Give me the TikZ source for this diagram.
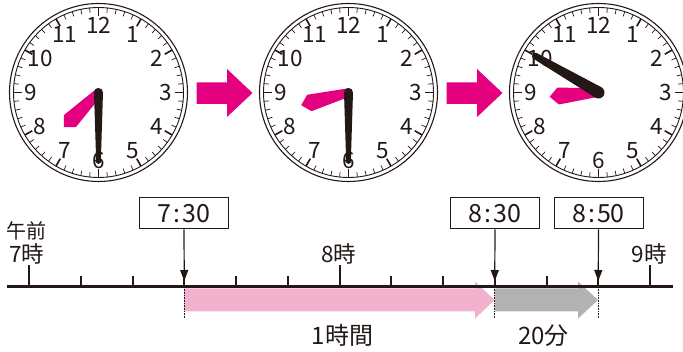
\documentclass[tikz,border=0pt]{standalone}
\usepackage{fontspec}
\setmainfont{Noto Sans CJK JP}
\usetikzlibrary{arrows.meta}

\definecolor{inkblack}{RGB}{35,24,21}
\definecolor{clockmagenta}{RGB}{228,0,127}
\definecolor{spanpink}{RGB}{242,178,206}
\definecolor{spangray}{RGB}{178,178,178}

\newcommand{\numfont}{\fontsize{22.5pt}{22.5pt}\selectfont}
\newcommand{\boxfont}{\fontsize{25pt}{25pt}\selectfont}
\newcommand{\hourfont}{\fontsize{22.5pt}{22.5pt}\selectfont}
\newcommand{\amfont}{\fontsize{20pt}{20pt}\selectfont}
\newcommand{\spanfont}{\fontsize{24pt}{24pt}\selectfont}

\def\clocky{92.5}
\def\tickstep{51.75}

% face of one clock: #1 = x of the centre, #2 = name prefix
\newcommand{\clockface}[2]{%
\begin{scope}[shift={(#1,\clocky)}]
\draw[inkblack,line width=1.1pt,fill=white] (0,0) circle (89);
\draw[inkblack,line width=0.9pt] (0,0) circle (85);
\foreach \m in {0,...,59}
\draw[inkblack,line width=0.7pt] (\m*6:85) -- (\m*6:80);
\foreach \h in {0,...,11}
\draw[inkblack,line width=1.6pt] (\h*30:85) -- (\h*30:76.5);
\foreach \n in {1,...,12}
\node[numeral] (#2-\n) at (\n*30-90:67.5) {\n};
\end{scope}}

% hour hand: #1 = x of the centre, #2 = angle (clockwise from 3 o'clock)
\newcommand{\hourhand}[2]{%
\fill[clockmagenta,shift={(#1,\clocky)},rotate=-#2]
(-2,-4) -- (40.5,-8.5) -- (49,0) -- (40.5,8.5) -- (-2,4) -- cycle;}

% slim minute hand
\newcommand{\minutehand}[2]{%
\fill[inkblack,shift={(#1,\clocky)},rotate=-#2]
(0,-4.5) -- (70,-2.3) -- (71.5,0) -- (70,2.3) -- (0,4.5) -- cycle
(0,0) circle (4.5);}

% thick minute hand
\newcommand{\thickhand}[2]{%
\fill[inkblack,shift={(#1,\clocky)},rotate=-#2]
(0,-6) -- (73,-3.3) -- (73,3.3) -- (0,6) -- cycle
(73,0) circle (3.3) (0,0) circle (6);}

\begin{document}
\begin{tikzpicture}[x=1pt,y=-1pt]
\useasboundingbox (0,0) rectangle (683,352);
\tikzstyle{numeral}=[font=\numfont,inner sep=0pt,text=inkblack]
\tikzstyle{timebox}=[draw=inkblack,line width=1pt,fill=white,minimum width=89pt,minimum height=31pt,inner sep=0pt,font=\boxfont,text=inkblack]
\tikzstyle{hourlabel}=[font=\hourfont,inner sep=0pt,anchor=base,text=inkblack]
\tikzstyle{spanlabel}=[font=\spanfont,inner sep=0pt,anchor=base,text=inkblack]
\tikzstyle{pointer}=[-{Triangle[length=11pt,width=8pt]},line width=1.2pt,draw=inkblack]
\tikzstyle{guide}=[densely dotted,line width=0.6pt,draw=inkblack]

% Draw the three clocks
\clockface{98.5}{ca}
\hourhand{98.5}{135}
\minutehand{98.5}{90}

\clockface{348.5}{cb}
\hourhand{348.5}{165}
\minutehand{348.5}{90}

\clockface{598.5}{cc}
\hourhand{598.5}{175}
\thickhand{598.5}{210}

% Arrows between the clocks
\foreach \dx in {0,250}
\fill[clockmagenta,xshift=\dx pt] (196.5,82.5) -- (227,82.5) -- (227,69) -- (252.5,93)
-- (227,117) -- (227,104) -- (196.5,104) -- cycle;

% Ticks of the time line
\foreach \i in {0,...,12}
\coordinate (t-\i) at (29+\i*\tickstep,287);
\coordinate (tl-a) at (7,287);
\coordinate (tl-b) at (673,287);

% The spans: one hour and twenty minutes
\fill[spanpink] (184,288.5) -- (475,288.5) -- (475,281.5) -- (494.5,300)
-- (475,318.5) -- (475,311.5) -- (184,311.5) -- cycle;
\fill[spangray] (495,288.5) -- (578,288.5) -- (578,281.5) -- (598,300)
-- (578,318.5) -- (578,311.5) -- (495,311.5) -- cycle;

\draw[inkblack,line width=3pt] (tl-a) -- (tl-b);
\foreach \i in {0,...,12}
\draw[inkblack,line width=2pt] (t-\i) -- ++(0,-11);
\foreach \i in {0,6,12}
\draw[inkblack,line width=2pt] (t-\i) -- ++(0,-22);

\foreach \i in {3,9,11}
\draw[guide] (t-\i) -- ++(0,31);

% Annotate the hours
\node[hourlabel,font=\amfont] (am) at (26.5,238.5) {午前};
\node[hourlabel] (h7) at (26.5,262.5) {7時};
\node[hourlabel] (h8) at (338.5,262.5) {8時};
\node[hourlabel] (h9) at (649,262.5) {9時};

% The three times, pointing at the line
\node[timebox] (b730) at (184,213.5) {7\kern2pt:\kern2pt30};
\node[timebox] (b830) at (495,213.5) {8\kern2pt:\kern2pt30};
\node[timebox] (b850) at (598.5,213.5) {8\kern2pt:\kern2pt50};
\draw[pointer] (b730.south) -- ([yshift=6pt]t-3);
\draw[pointer] (b830.south) -- ([yshift=6pt]t-9);
\draw[pointer] (b850.south) -- ([yshift=6pt]t-11);

\node[spanlabel] (hour) at (342.5,344.5) {1時間};
\node[spanlabel] (mins) at (543.5,345) {20分};
\end{tikzpicture}
\end{document}
